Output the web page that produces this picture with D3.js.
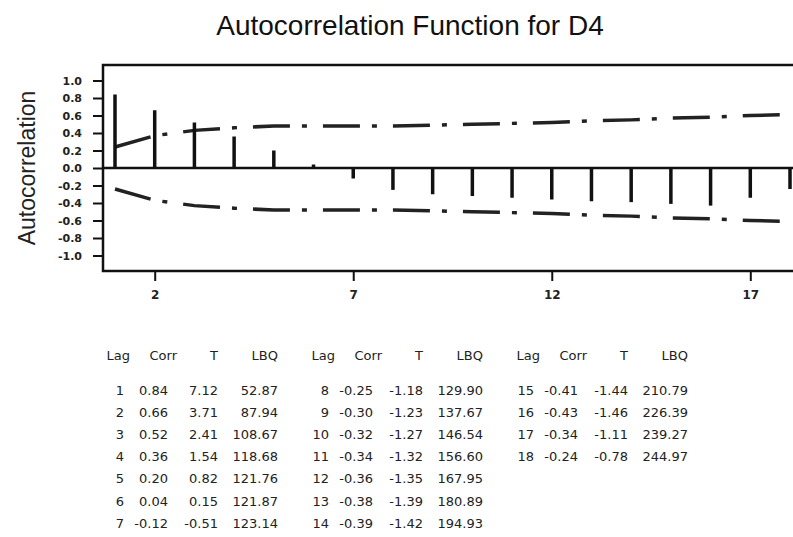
<!DOCTYPE html>
<html>
<head>
<meta charset="utf-8">
<script src="https://cdn.jsdelivr.net/npm/d3@7"></script>
<style>
  html, body { margin: 0; padding: 0; background: #fff; }
  svg { display: block; font-family: "Liberation Sans", Arial, sans-serif; }
</style>
</head>
<body>
<svg id="chart" width="793" height="537"></svg>
<script>
// ACF of D4: lag, correlation, t-statistic, Ljung-Box Q
const lags = [1, 2, 3, 4, 5, 6, 7, 8, 9, 10, 11, 12, 13, 14, 15, 16, 17, 18];
const corr = [0.84, 0.66, 0.52, 0.36, 0.20, 0.04, -0.12, -0.25, -0.30, -0.32, -0.34, -0.36, -0.38, -0.39, -0.41, -0.43, -0.34, -0.24];
const tStat = [7.12, 3.71, 2.41, 1.54, 0.82, 0.15, -0.51, -1.18, -1.23, -1.27, -1.32, -1.35, -1.39, -1.42, -1.44, -1.46, -1.11, -0.78];
const lbq = [52.87, 87.94, 108.67, 118.68, 121.76, 121.87, 123.14, 129.90, 137.67, 146.54, 156.60, 167.95, 180.89, 194.93, 210.79, 226.39, 239.27, 244.97];
// 5% significance limits (+/-) at each lag
const limits = [0.24, 0.37, 0.43, 0.46, 0.48, 0.48, 0.48, 0.48, 0.49, 0.50, 0.51, 0.52, 0.54, 0.55, 0.57, 0.58, 0.60, 0.61];

const yTicks = [1.0, 0.8, 0.6, 0.4, 0.2, 0.0, -0.2, -0.4, -0.6, -0.8, -1.0];
const xTicks = [2, 7, 12, 17];
const tableHeaders = ["Lag", "Corr", "T", "LBQ"];
const rowsPerBlock = 7;

const svg = d3.select("#chart");

// plot frame
const frame = { left: 103, top: 65, right: 801, bottom: 271 };

const x = d3.scaleLinear().domain([1, 18]).range([115, 790]);
const y = d3.scaleLinear().domain([-1, 1]).range([255.5, 80.5]);

// title
svg.append("text")
  .attr("x", 410).attr("y", 35)
  .attr("text-anchor", "middle")
  .style("font-size", "28px")
  .attr("fill", "#111")
  .text("Autocorrelation Function for D4");

// y-axis title
svg.append("text")
  .attr("transform", "translate(35,168) rotate(-90)")
  .attr("text-anchor", "middle")
  .style("font-size", "23px")
  .attr("fill", "#222")
  .text("Autocorrelation");

// frame box
svg.append("rect")
  .attr("x", frame.left).attr("y", frame.top)
  .attr("width", frame.right - frame.left)
  .attr("height", frame.bottom - frame.top)
  .attr("fill", "none").attr("stroke", "#111").attr("stroke-width", 2.5);

// y axis
const yAxis = d3.axisLeft(y)
  .tickValues(yTicks)
  .tickSize(10)
  .tickPadding(11)
  .tickFormat(d => (Math.abs(d) < 1e-9 ? 0 : d).toFixed(1));
const yg = svg.append("g")
  .attr("transform", `translate(${frame.left},0)`)
  .call(yAxis);
yg.select(".domain").remove();
yg.selectAll(".tick line").attr("stroke", "#111").attr("stroke-width", 2);
yg.selectAll(".tick text")
  .attr("fill", "#222")
  .style("font-size", "11px").style("font-weight", "bold")
  .style("font-family", "'DejaVu Sans', sans-serif");

// x axis
const xAxis = d3.axisBottom(x)
  .tickValues(xTicks)
  .tickSize(10)
  .tickPadding(9)
  .tickFormat(d3.format("d"));
const xg = svg.append("g")
  .attr("transform", `translate(0,${frame.bottom})`)
  .call(xAxis);
xg.select(".domain").remove();
xg.selectAll(".tick line").attr("stroke", "#111").attr("stroke-width", 2);
xg.selectAll(".tick text")
  .attr("fill", "#222")
  .style("font-size", "12px").style("font-weight", "bold")
  .style("font-family", "'DejaVu Sans', sans-serif");

// zero reference line
svg.append("line")
  .attr("x1", frame.left).attr("x2", frame.right)
  .attr("y1", y(0)).attr("y2", y(0))
  .attr("stroke", "#111").attr("stroke-width", 2.5);

// significance limit lines (dash-dot)
const limitLine = d3.line().x(d => x(d[0])).y(d => y(d[1]));
[1, -1].forEach(sign => {
  svg.append("path")
    .datum(lags.map((l, i) => [l, sign * limits[i]]))
    .attr("d", limitLine)
    .attr("fill", "none")
    .attr("stroke", "#222")
    .attr("stroke-width", 3.5)
    .attr("stroke-dasharray", "37,12,5,16");
});

// autocorrelation spikes
svg.append("g").selectAll("line")
  .data(lags.map((l, i) => ({ lag: l, r: corr[i] })))
  .join("line")
  .attr("x1", d => x(d.lag)).attr("x2", d => x(d.lag))
  .attr("y1", y(0)).attr("y2", d => y(d.r))
  .attr("stroke", "#111").attr("stroke-width", 3.5);

// statistics table, three blocks of up to seven lags
const fmt2 = v => v.toFixed(2);
const blockX = [115, 320, 525];
const headerOffsets = [15, 62, 103, 163];
const colOffsets = [9, 53, 103, 163];
const headerY = 355, firstRowY = 390, rowStep = 22.2;
const tableFont = 13;

const table = svg.append("g")
  .style("font-size", tableFont + "px")
  .style("font-family", "'DejaVu Sans', sans-serif")
  .attr("fill", "#222");

blockX.forEach((bx, b) => {
  table.selectAll(null)
    .data(tableHeaders)
    .join("text")
    .attr("x", (d, j) => bx + headerOffsets[j])
    .attr("y", headerY + tableFont * 0.36)
    .attr("text-anchor", "end")
    .text(d => d);

  const rows = lags.slice(b * rowsPerBlock, (b + 1) * rowsPerBlock)
    .map((l, k) => {
      const i = b * rowsPerBlock + k;
      return [String(l), fmt2(corr[i]), fmt2(tStat[i]), fmt2(lbq[i])];
    });

  rows.forEach((cells, k) => {
    table.selectAll(null)
      .data(cells)
      .join("text")
      .attr("x", (d, j) => bx + colOffsets[j])
      .attr("y", firstRowY + k * rowStep + tableFont * 0.36)
      .attr("text-anchor", "end")
      .text(d => d);
  });
});
</script>
</body>
</html>
